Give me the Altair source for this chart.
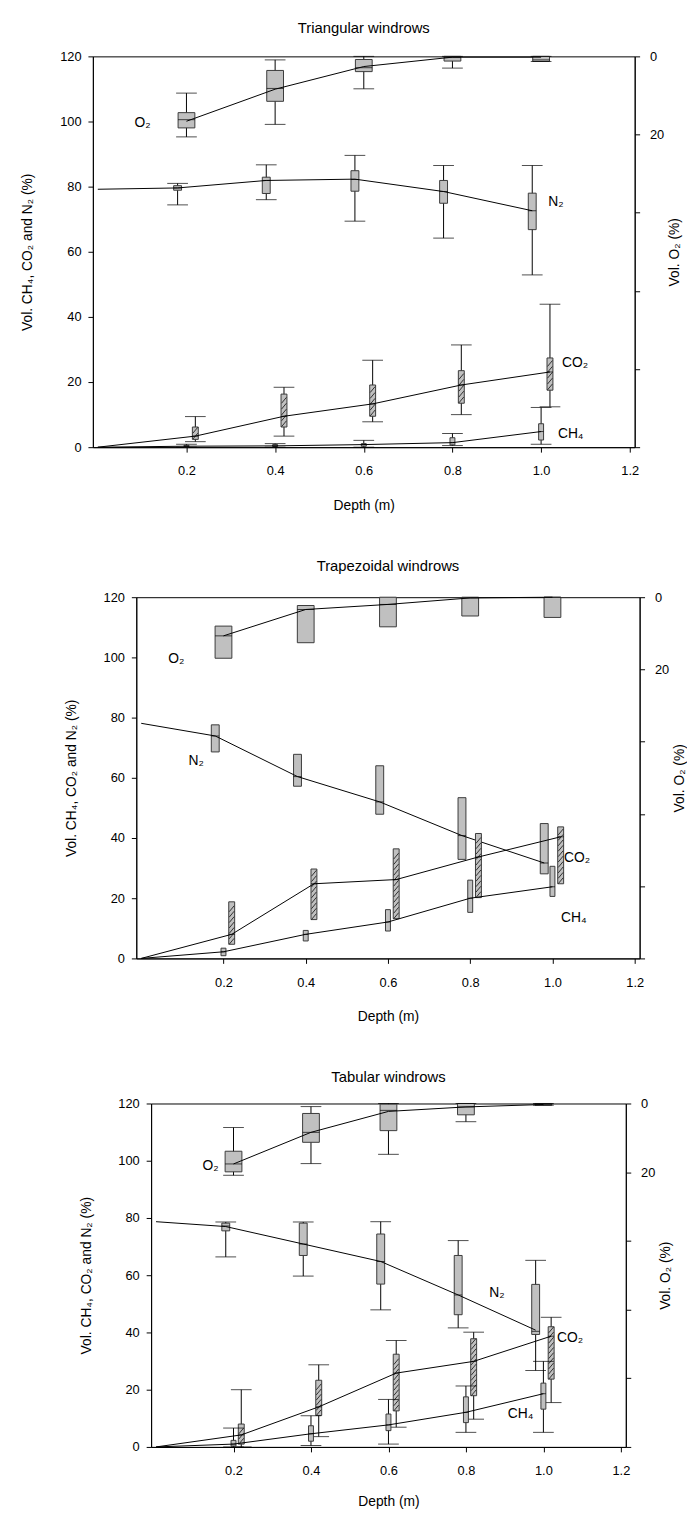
import altair as alt
import pandas as pd

FONT = "Liberation Sans"
DEPTHS = [0.2, 0.4, 0.6, 0.8, 1.0]
GAS_SHIFT = {"O2": 0.0, "N2": -0.02, "CO2": 0.02, "CH4": 0.0}

# ---------------- Triangular windrows ----------------
tri_o2_wmin = [9.4, 0.9, 0.0, 0.0, 0.0]
tri_o2_q1 = [14.4, 3.6, 0.8, 0.0, 0.0]
tri_o2_med = [16.2, 8.2, 2.9, 0.3, 0.9]
tri_o2_q3 = [18.3, 11.5, 3.9, 1.2, 1.3]
tri_o2_wmax = [20.6, 17.4, 8.3, 3.0, 1.3]
tri_o2_mean = [16.6, 8.4, 2.6, 0.2, 0.2]

tri_n2_start = 79.2
tri_n2_wmin = [74.4, 76.0, 69.4, 64.2, 52.9]
tri_n2_q1 = [78.9, 77.9, 78.6, 74.9, 66.8]
tri_n2_med = [79.6, 81.9, 82.2, 78.5, 72.6]
tri_n2_q3 = [80.3, 82.9, 84.9, 81.9, 78.0]
tri_n2_wmax = [81.0, 86.7, 89.6, 86.5, 86.5]
tri_n2_mean = [79.6, 81.9, 82.3, 78.5, 72.6]

tri_co2_start = 0.0
tri_co2_wmin = [1.7, 3.4, 7.8, 10.0, 12.4]
tri_co2_q1 = [2.4, 6.2, 9.5, 13.5, 17.5]
tri_co2_med = [3.4, 9.5, 13.3, 19.1, 23.1]
tri_co2_q3 = [6.2, 16.3, 19.1, 23.5, 27.4]
tri_co2_wmax = [9.4, 18.4, 26.7, 31.4, 43.9]
tri_co2_mean = [3.4, 9.5, 13.3, 19.1, 23.1]

tri_ch4_start = 0.0
tri_ch4_wmin = [0.0, 0.0, 0.0, 0.5, 0.9]
tri_ch4_q1 = [0.1, 0.2, 0.3, 0.7, 2.2]
tri_ch4_med = [0.3, 0.4, 0.8, 1.4, 4.8]
tri_ch4_q3 = [0.6, 0.8, 1.1, 2.9, 7.2]
tri_ch4_wmax = [0.9, 1.1, 2.1, 4.2, 12.2]
tri_ch4_mean = [0.3, 0.4, 0.8, 1.4, 4.8]

tri_label_text = ["O₂", "N₂", "CO₂", "CH₄"]
tri_label_x = [0.083, 1.016, 1.047, 1.038]
tri_label_y = [99.4, 75.2, 25.8, 3.9]

# ---------------- Trapezoidal windrows ----------------
trap_o2_q1 = [8.0, 2.3, 0.0, 0.0, 0.0]
trap_o2_q3 = [16.9, 12.6, 8.2, 5.2, 5.6]
trap_o2_mean = [10.7, 3.4, 2.0, 0.2, 0.0]

trap_n2_start = 78.1
trap_n2_q1 = [68.6, 57.2, 47.9, 32.9, 28.1]
trap_n2_q3 = [77.6, 67.8, 64.0, 53.4, 44.8]
trap_n2_mean = [73.9, 60.4, 52.0, 40.8, 31.7]

trap_co2_start = 0.0
trap_co2_q1 = [4.7, 12.9, 13.2, 20.2, 24.8]
trap_co2_q3 = [18.8, 29.7, 36.4, 41.5, 43.7]
trap_co2_mean = [8.0, 24.8, 26.2, 33.7, 40.4]

trap_ch4_start = 0.0
trap_ch4_q1 = [0.9, 5.8, 9.1, 15.3, 20.6]
trap_ch4_q3 = [3.4, 9.3, 16.2, 26.0, 30.6]
trap_ch4_mean = [2.2, 8.0, 12.1, 20.0, 23.8]

trap_label_text = ["O₂", "N₂", "CO₂", "CH₄"]
trap_label_x = [0.066, 0.115, 1.028, 1.021]
trap_label_y = [99.3, 65.6, 33.4, 13.4]

# ---------------- Tabular windrows ----------------
tab_o2_wmin = [7.0, 0.9, 0.0, 0.0, 0.0]
tab_o2_q1 = [13.9, 2.9, 0.2, 0.0, 0.0]
tab_o2_med = [17.6, 8.4, 2.0, 1.0, 0.3]
tab_o2_q3 = [19.9, 11.3, 7.9, 3.3, 0.5]
tab_o2_wmax = [20.9, 17.5, 14.8, 5.3, 0.5]
tab_o2_mean = [17.6, 8.4, 2.3, 1.0, 0.3]

tab_n2_start = 78.7
tab_n2_wmin = [66.4, 59.7, 47.9, 41.6, 26.7]
tab_n2_q1 = [75.5, 66.9, 56.9, 46.2, 39.3]
tab_n2_med = [77.2, 70.9, 64.8, 53.1, 40.4]
tab_n2_q3 = [78.2, 78.2, 74.4, 66.9, 56.8]
tab_n2_wmax = [78.6, 78.6, 78.7, 72.1, 65.2]
tab_n2_mean = [77.0, 70.9, 64.8, 53.1, 40.8]

tab_co2_start = 0.0
tab_co2_wmin = [0.0, 3.6, 6.9, 9.7, 15.5]
tab_co2_q1 = [1.0, 11.0, 12.6, 17.9, 23.7]
tab_co2_med = [4.2, 14.0, 25.8, 29.9, 38.7]
tab_co2_q3 = [8.0, 23.3, 32.4, 37.8, 42.0]
tab_co2_wmax = [20.0, 28.7, 37.2, 40.1, 45.3]
tab_co2_mean = [4.2, 14.0, 25.8, 29.9, 38.7]

tab_ch4_start = 0.0
tab_ch4_wmin = [0.0, 0.5, 1.0, 5.1, 5.1]
tab_ch4_q1 = [0.3, 2.0, 5.7, 8.5, 13.2]
tab_ch4_med = [1.0, 4.6, 7.7, 12.1, 18.6]
tab_ch4_q3 = [2.3, 7.4, 11.5, 17.5, 22.3]
tab_ch4_wmax = [6.6, 10.9, 16.6, 21.3, 29.9]
tab_ch4_mean = [1.0, 4.6, 7.7, 12.1, 18.6]

tab_label_text = ["O₂", "N₂", "CO₂", "CH₄"]
tab_label_x = [0.12, 0.86, 1.035, 0.908]
tab_label_y = [98.3, 53.8, 37.9, 11.4]

# ---------------- styling ----------------
BOX_W = {"O2": 17, "N2": 8, "CO2": 6, "CH4": 5}
CAP_W = 21
BOX_FILL = "#c0c0c0"
BOX_STROKE = "#3a3a3a"

XSCALE = alt.Scale(domain=[0, 1.2], nice=False, zero=False)
YL = alt.Scale(domain=[0, 120], nice=False)
YR = alt.Scale(domain=[0, 100], nice=False, reverse=True)

LEFT_AXIS = alt.Axis(orient="left", title="Vol. CH₄, CO₂ and N₂ (%)",
                     values=[0, 20, 40, 60, 80, 100, 120], labelPadding=7,
                     titlePadding=25, grid=False)
RIGHT_AXIS = alt.Axis(orient="right", title="Vol. O₂ (%)", values=[0, 20, 40, 60, 80, 100],
                      labelExpr="datum.value <= 20 ? datum.label : ''", labelPadding=10,
                      titlePadding=4, titleAngle=270, titleBaseline="top", grid=False)


def make_xaxis(title_pad):
    return alt.Axis(title="Depth (m)", values=[0.2, 0.4, 0.6, 0.8, 1.0, 1.2], format=".1f",
                    labelPadding=13, titlePadding=title_pad, grid=False, orient="bottom")


def stats(mean, q1, q3, med=None, wmin=None, wmax=None, start=None):
    return {"mean": mean, "q1": q1, "q3": q3, "med": med if med is not None else mean,
            "wmin": wmin, "wmax": wmax, "start": start}


def gas_layers(name, st, yscale, yaxis, xaxis):
    def yq(field):
        return alt.Y(field + ":Q", scale=yscale, axis=yaxis)

    def xq():
        return alt.X("x:Q", scale=XSCALE, axis=xaxis)

    xs = [d + GAS_SHIFT[name] for d in DEPTHS]
    df = pd.DataFrame({"x": xs, "q1": st["q1"], "q3": st["q3"], "med": st["med"]})
    has_w = st["wmin"] is not None
    if has_w:
        df["wmin"] = st["wmin"]
        df["wmax"] = st["wmax"]
    base = alt.Chart(df)
    w = BOX_W[name]
    layers = []
    if has_w:
        layers.append(base.mark_rule(color="black", strokeWidth=1).encode(
            x=xq(), y=yq("wmin"), y2=alt.Y2("wmax")))
    layers.append(base.mark_bar(size=w, fill=BOX_FILL, stroke=BOX_STROKE, strokeWidth=1).encode(
        x=xq(), y=yq("q1"), y2=alt.Y2("q3")))
    if name == "CO2":
        half = w / 2 - 0.5
        layers.append(
            base.transform_calculate(h="sequence(datum.q1 + 1.0, datum.q3 - 0.8, 1.8)")
            .transform_flatten(["h"])
            .mark_rule(color="#202020", strokeWidth=0.9, xOffset=-half, x2Offset=half,
                       yOffset=3, y2Offset=-3)
            .encode(x=xq(), x2=alt.X2("x"), y=yq("h"), y2=alt.Y2("h")))
    layers.append(base.mark_tick(orient="horizontal", size=w, thickness=1, color="black").encode(
        x=xq(), y=yq("med")))
    if has_w:
        for f in ("wmin", "wmax"):
            layers.append(base.mark_tick(orient="horizontal", size=CAP_W, thickness=1,
                                         color="black").encode(x=xq(), y=yq(f)))
    lx = list(xs)
    ly = list(st["mean"])
    if st["start"] is not None:
        lx = [0.0] + lx
        ly = [st["start"]] + ly
    ldf = pd.DataFrame({"x": lx, "mean": ly})
    layers.append(alt.Chart(ldf).mark_line(color="black", strokeWidth=1).encode(
        x=xq(), y=yq("mean"), order="x:Q"))
    return layers


def panel(title, n2, co2, ch4, o2, ltext, lx, ly, width, height, title_offset, x_title_pad):
    xaxis = make_xaxis(x_title_pad)
    left = []
    left += gas_layers("N2", n2, YL, LEFT_AXIS, xaxis)
    left += gas_layers("CO2", co2, YL, LEFT_AXIS, xaxis)
    left += gas_layers("CH4", ch4, YL, LEFT_AXIS, xaxis)
    ldf = pd.DataFrame({"t": ltext, "x": lx, "v": ly})
    left.append(alt.Chart(ldf).mark_text(align="left", baseline="middle", fontSize=14,
                                         font=FONT, color="black").encode(
        x=alt.X("x:Q", scale=XSCALE, axis=xaxis),
        y=alt.Y("v:Q", scale=YL, axis=LEFT_AXIS), text="t:N"))
    right = gas_layers("O2", o2, YR, RIGHT_AXIS, xaxis)
    return (alt.layer(alt.layer(*left), alt.layer(*right))
            .resolve_scale(y="independent")
            .properties(width=width, height=height,
                        title=alt.Title(title, frame="group", offset=title_offset)))


def spacer(w):
    return (alt.Chart(pd.DataFrame({"s": [0]})).mark_point(opacity=0)
            .encode(x=alt.value(0), y=alt.value(0))
            .properties(width=w, height=1, view=alt.ViewBackground(stroke="transparent")))


p1 = panel("Triangular windrows",
           stats(tri_n2_mean, tri_n2_q1, tri_n2_q3, tri_n2_med, tri_n2_wmin, tri_n2_wmax, tri_n2_start),
           stats(tri_co2_mean, tri_co2_q1, tri_co2_q3, tri_co2_med, tri_co2_wmin, tri_co2_wmax, tri_co2_start),
           stats(tri_ch4_mean, tri_ch4_q1, tri_ch4_q3, tri_ch4_med, tri_ch4_wmin, tri_ch4_wmax, tri_ch4_start),
           stats(tri_o2_mean, tri_o2_q1, tri_o2_q3, tri_o2_med, tri_o2_wmin, tri_o2_wmax),
           tri_label_text, tri_label_x, tri_label_y, 549, 396, 15, 21)

p2 = panel("Trapezoidal windrows",
           stats(trap_n2_mean, trap_n2_q1, trap_n2_q3, start=trap_n2_start),
           stats(trap_co2_mean, trap_co2_q1, trap_co2_q3, start=trap_co2_start),
           stats(trap_ch4_mean, trap_ch4_q1, trap_ch4_q3, start=trap_ch4_start),
           stats(trap_o2_mean, trap_o2_q1, trap_o2_q3),
           trap_label_text, trap_label_x, trap_label_y, 510, 366, 18, 21)

p3 = panel("Tabular windrows",
           stats(tab_n2_mean, tab_n2_q1, tab_n2_q3, tab_n2_med, tab_n2_wmin, tab_n2_wmax, tab_n2_start),
           stats(tab_co2_mean, tab_co2_q1, tab_co2_q3, tab_co2_med, tab_co2_wmin, tab_co2_wmax, tab_co2_start),
           stats(tab_ch4_mean, tab_ch4_q1, tab_ch4_q3, tab_ch4_med, tab_ch4_wmin, tab_ch4_wmax, tab_ch4_start),
           stats(tab_o2_mean, tab_o2_q1, tab_o2_q3, tab_o2_med, tab_o2_wmin, tab_o2_wmax),
           tab_label_text, tab_label_x, tab_label_y, 481, 348, 13, 17)

row2 = alt.hconcat(spacer(44), p2, spacing=0, bounds="flush")
row3 = alt.hconcat(spacer(59), p3, spacing=0, bounds="flush")

chart = (alt.vconcat(p1, row2, row3, spacing=45)
         .properties(padding={"left": 12, "top": 2, "right": 0, "bottom": 0})
         .configure(font=FONT)
         .configure_view(stroke="black", strokeWidth=1)
         .configure_axis(domainColor="black", tickColor="black", labelColor="black",
                         titleColor="black", labelFont=FONT, titleFont=FONT,
                         labelFontSize=13, titleFontSize=14, titleFontWeight="normal",
                         tickSize=5, domainWidth=1, tickWidth=1)
         .configure_title(font=FONT, fontSize=15, fontWeight="normal", color="black",
                          anchor="middle"))

chart.save("out.html", embed_options={"renderer": "svg", "actions": False})
